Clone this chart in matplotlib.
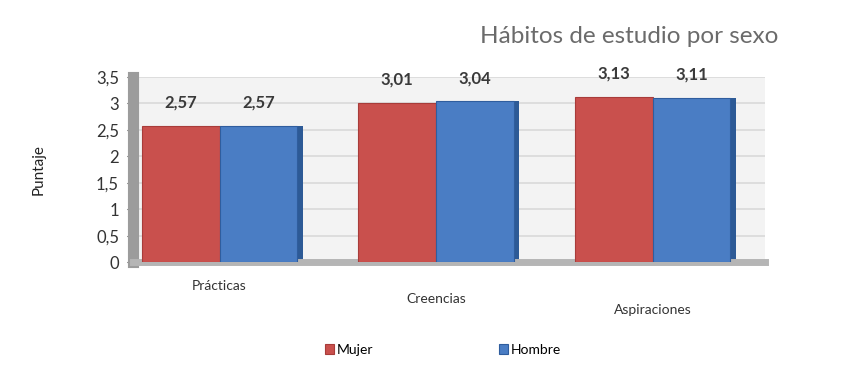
import matplotlib.pyplot as plt
import numpy as np
from matplotlib.ticker import FuncFormatter

plt.rcParams["font.family"] = ["Lato", "DejaVu Sans"]

categorias = ["Prácticas", "Creencias", "Aspiraciones"]
mujer = [2.57, 3.01, 3.13]
hombre = [2.57, 3.04, 3.11]
etiquetas_y = [0, 0.5, 1, 1.5, 2, 2.5, 3, 3.5]

rojo = "#c9504d"
azul = "#4a7dc4"
x = np.arange(len(categorias))
w = 0.36

fig = plt.figure(figsize=(8.52, 3.89), dpi=100)
ax = fig.add_axes([0.156, 0.326, 0.742, 0.476])
ax.set_facecolor("#f3f3f3")

b1 = ax.bar(x - w / 2, mujer, w, color=rojo, edgecolor="#a83c3a", linewidth=0.8, zorder=3)
b2 = ax.bar(x + w / 2, hombre, w, color=azul, edgecolor="#2f5d9e", linewidth=0.8, zorder=3)
# cara lateral de las barras azules
ax.bar(x + w + 0.012, hombre, 0.025, color="#2d5a96", linewidth=0, zorder=2)

for barras, vals in [(b1, mujer), (b2, hombre)]:
    for b, v in zip(barras, vals):
        ax.annotate(f"{v:.2f}".replace(".", ","), (b.get_x() + b.get_width() / 2, v),
                    xytext=(0, 11), textcoords="offset points", ha="center", va="bottom",
                    fontsize=12, fontweight="bold", color="#3a3a3a")

ax.set_ylim(0, 3.5)
ax.set_xlim(-0.40, 2.52)
ax.set_yticks(etiquetas_y)
ax.yaxis.set_major_formatter(FuncFormatter(lambda v, p: f"{v:g}".replace(".", ",")))
ax.tick_params(axis="y", labelsize=12, colors="#333333", length=4, pad=6)
ax.tick_params(axis="x", length=0, labelbottom=False)
ax.grid(axis="y", color="#d9d9d9", linewidth=1.2, zorder=0)

for s in ["top", "right"]:
    ax.spines[s].set_visible(False)
ax.spines["left"].set_color("#9c9c9c")
ax.spines["left"].set_linewidth(8)
ax.spines["bottom"].set_color("#b5b5b5")
ax.spines["bottom"].set_linewidth(5)

# etiquetas de categoría (escalonadas por la perspectiva)
for i, (c, dy) in enumerate(zip(categorias, [-0.13, -0.2, -0.26])):
    ax.text(x[i], dy, c, transform=ax.get_xaxis_transform(), ha="center", va="center",
            fontsize=10, color="#333333")

ax.set_ylabel("Puntaje", fontsize=11, color="#222222", labelpad=36)

fig.text(0.913, 0.905, "Hábitos de estudio por sexo", ha="right", va="center",
         fontsize=17.5, color="#6b6b6b")

fig.legend([b1, b2], ["Mujer", "Hombre"], loc="center", bbox_to_anchor=(0.52, 0.1),
           ncol=2, frameon=False, fontsize=10, handlelength=0.7, handleheight=0.7,
           handletextpad=0.2, columnspacing=9)

fig.savefig("out.png", dpi=100, facecolor="white")
